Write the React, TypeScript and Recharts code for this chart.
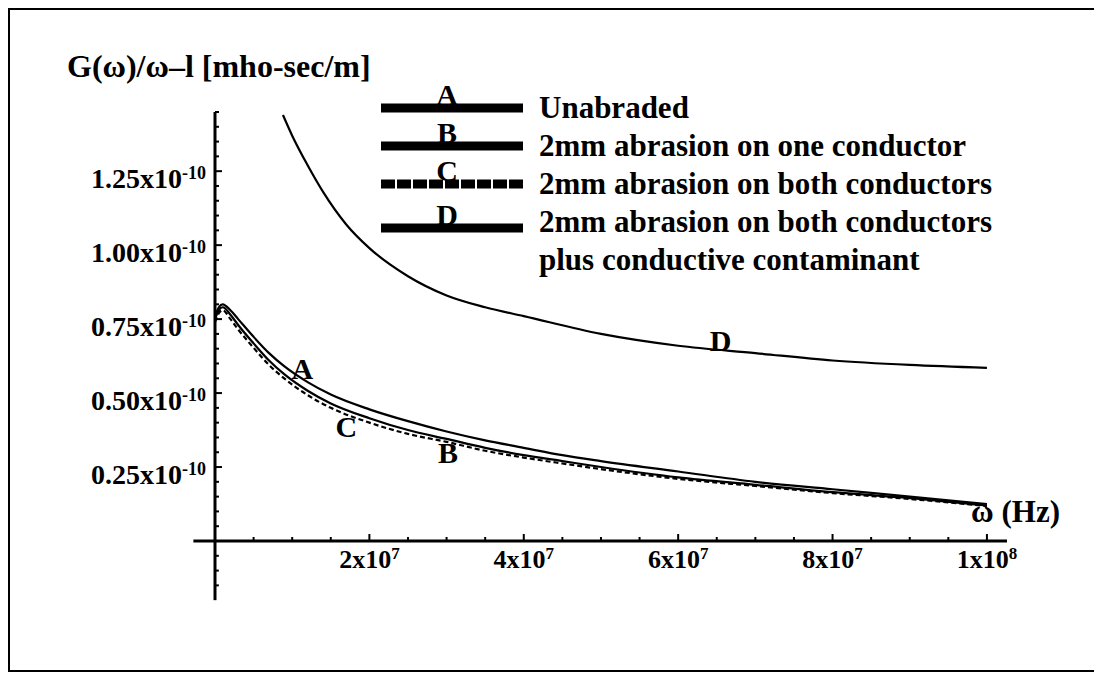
import React from "react";
import { LineChart, Line, XAxis, YAxis, Legend, ReferenceLine, ReferenceDot } from "recharts";

const SERIF = "'Liberation Serif', 'Times New Roman', serif";

// ω in units of 1e6 Hz, G(ω)/ω–l in units of 1e-10 mho-sec/m
const omegaABC = [0, 0.5, 1, 2, 3, 5, 7, 9, 12, 15, 20, 25, 30, 35, 40, 45, 50, 60, 70, 80, 90, 100];
const curveA = [0.76, 0.79, 0.8, 0.78, 0.75, 0.69, 0.635, 0.59, 0.537, 0.495, 0.445, 0.405, 0.37, 0.34, 0.315, 0.29, 0.27, 0.235, 0.2, 0.175, 0.15, 0.125];
const curveB = [0.75, 0.78, 0.79, 0.765, 0.73, 0.668, 0.61, 0.563, 0.508, 0.465, 0.415, 0.375, 0.345, 0.315, 0.29, 0.27, 0.25, 0.215, 0.19, 0.165, 0.145, 0.12];
const curveC = [0.74, 0.77, 0.78, 0.75, 0.715, 0.653, 0.595, 0.549, 0.493, 0.45, 0.4, 0.362, 0.335, 0.305, 0.282, 0.262, 0.243, 0.21, 0.186, 0.162, 0.142, 0.118];
const omegaD = [8.8, 10, 12, 14, 17, 20, 25, 30, 35, 40, 50, 60, 70, 80, 90, 100];
const curveD = [1.44, 1.37, 1.27, 1.18, 1.07, 0.99, 0.895, 0.83, 0.79, 0.76, 0.7, 0.66, 0.635, 0.61, 0.595, 0.585];

const seriesNames = ["A", "B", "C", "D"];
const legendText = [
  "Unabraded",
  "2mm abrasion on one conductor",
  "2mm abrasion on both conductors",
  "2mm abrasion on both conductors\nplus conductive contaminant",
];

// letters written next to the curves (data coordinates)
const curveLabelX = [11.3, 30.2, 17.0, 65.5];
const curveLabelY = [0.581, 0.297, 0.385, 0.676];

const xMajorTicks = [20, 40, 60, 80, 100];
const xTickText = ["2x10", "4x10", "6x10", "8x10", "1x10"];
const xTickExp = ["7", "7", "7", "7", "8"];
const xTicks = [5, 10, 15, 20, 25, 30, 35, 40, 45, 50, 55, 60, 65, 70, 75, 80, 85, 90, 95, 100];

const yMajorTicks = [0.25, 0.5, 0.75, 1.0, 1.25];
const yTickText = ["0.25x10", "0.50x10", "0.75x10", "1.00x10", "1.25x10"];
const yTickExp = ["-10", "-10", "-10", "-10", "-10"];
const yTicks = Array.from({ length: 29 }, (_, i) => ((i + 1) * 5) / 100);
const yBelowTicks = [-0.05, -0.1, -0.15];

const toRows = (xs: number[], ys: number[]) => xs.map((w, i) => ({ w, g: ys[i] }));
const dataA = toRows(omegaABC, curveA);
const dataB = toRows(omegaABC, curveB);
const dataC = toRows(omegaABC, curveC);
const dataD = toRows(omegaD, curveD);

const findIdx = (arr: number[], v: number) => arr.findIndex((a) => Math.abs(a - v) < 1e-9);

const XTick = (props: any) => {
  const { x, y, payload } = props;
  const idx = findIdx(xMajorTicks, payload.value);
  const major = idx >= 0;
  return (
    <g>
      <line x1={x} x2={x} y1={y} y2={y - (major ? 7 : 4)} stroke="#000" strokeWidth={2} />
      {major && (
        <text x={x} y={y + 27} textAnchor="middle" fontFamily={SERIF} fontWeight="bold" fontSize={26} fill="#000">
          {xTickText[idx]}
          <tspan dy={-9} fontSize={17}>{xTickExp[idx]}</tspan>
        </text>
      )}
    </g>
  );
};

const YTick = (props: any) => {
  const { x, y, payload } = props;
  const idx = findIdx(yMajorTicks, payload.value);
  const major = idx >= 0;
  return (
    <g>
      <line x1={x} x2={x + (major ? 7 : 4)} y1={y} y2={y} stroke="#000" strokeWidth={2} />
      {major && (
        <text x={x - 9} y={y + 17} textAnchor="end" fontFamily={SERIF} fontWeight="bold" fontSize={28} fill="#000">
          {yTickText[idx]}
          <tspan dy={-9} fontSize={18}>{yTickExp[idx]}</tspan>
        </text>
      )}
    </g>
  );
};

const renderLegend = (props: any) => {
  const items = props.payload || [];
  return (
    <div style={{ fontFamily: SERIF, fontWeight: "bold", color: "#000" }}>
      {items.map((it: any, i: number) => {
        const barY = i === 3 ? 25 : 19;
        return (
          <div key={i} style={{ display: "flex", alignItems: "flex-start", minHeight: 38 }}>
            <svg width={142} height={38} style={{ display: "block", flex: "none", overflow: "visible" }}>
              <line
                x1={0}
                x2={142}
                y1={barY}
                y2={barY}
                stroke="#000"
                strokeWidth={9}
                strokeDasharray={i === 2 ? "14 2" : undefined}
              />
              <text x={66} y={barY - 3.5} textAnchor="middle" fontSize={30} fill="#000">
                {it.value}
              </text>
            </svg>
            <div style={{ marginLeft: 16, fontSize: 31, lineHeight: "38px", whiteSpace: "pre-line" }}>
              {legendText[i]}
            </div>
          </div>
        );
      })}
    </div>
  );
};

export default function App() {
  const lines = [dataA, dataB, dataC, dataD];
  return (
    <div style={{ position: "relative", width: 1084, height: 660, border: "2px solid #000", background: "#fff" }}>
      <LineChart width={1084} height={660} margin={{ top: 102, right: 87, bottom: 99, left: 145 }}>
        <XAxis
          type="number"
          dataKey="w"
          domain={[0, 102.6]}
          allowDataOverflow
          ticks={xTicks}
          interval={0}
          tickSize={0}
          tickMargin={0}
          tickLine={false}
          axisLine={{ stroke: "#000", strokeWidth: 3 }}
          tick={<XTick />}
          height={30}
          label={{
            content: (p: any) => (
              <text
                x={p.viewBox.x + p.viewBox.width + 53}
                y={p.viewBox.y - 19}
                textAnchor="end"
                fontFamily={SERIF}
                fontWeight="bold"
                fontSize={31}
                fill="#000"
              >
                ω (Hz)
              </text>
            ),
          }}
        />
        <YAxis
          type="number"
          domain={[0, 1.45]}
          allowDataOverflow
          ticks={yTicks}
          interval={0}
          tickSize={0}
          tickMargin={0}
          tickLine={false}
          axisLine={{ stroke: "#000", strokeWidth: 3 }}
          tick={<YTick />}
          width={60}
          label={{
            content: (p: any) => (
              <text
                x={p.viewBox.x - 88}
                y={p.viewBox.y - 35}
                fontFamily={SERIF}
                fontWeight="bold"
                fontSize={32}
                fill="#000"
              >
                G(ω)/ω–l [mho-sec/m]
              </text>
            ),
          }}
        />
        <ReferenceLine segment={[{ x: -2.8, y: 0 }, { x: 0, y: 0 }]} stroke="#000" strokeWidth={3} ifOverflow="visible" />
        <ReferenceLine segment={[{ x: 0, y: 0 }, { x: 0, y: -0.2 }]} stroke="#000" strokeWidth={3} ifOverflow="visible" />
        {yBelowTicks.map((v) => (
          <ReferenceLine key={v} segment={[{ x: 0, y: v }, { x: 0.5, y: v }]} stroke="#000" strokeWidth={2} ifOverflow="visible" />
        ))}
        {lines.map((d, i) => (
          <Line
            key={seriesNames[i]}
            data={d}
            dataKey="g"
            name={seriesNames[i]}
            type="monotone"
            stroke="#000"
            strokeWidth={2.2}
            strokeDasharray={i === 2 ? "5 3" : undefined}
            dot={false}
            activeDot={false}
            isAnimationActive={false}
          />
        ))}
        {seriesNames.map((n, i) => (
          <ReferenceDot
            key={"lbl" + n}
            x={curveLabelX[i]}
            y={curveLabelY[i]}
            r={0}
            shape={(p: any) => (
              <text x={p.cx} y={p.cy + 10} textAnchor="middle" fontFamily={SERIF} fontWeight="bold" fontSize={30} fill="#000">
                {n}
              </text>
            )}
          />
        ))}
        <Legend
          layout="vertical"
          align="center"
          verticalAlign="middle"
          content={renderLegend}
          wrapperStyle={{ left: 371, top: 79, width: 700 }}
        />
      </LineChart>
    </div>
  );
}
